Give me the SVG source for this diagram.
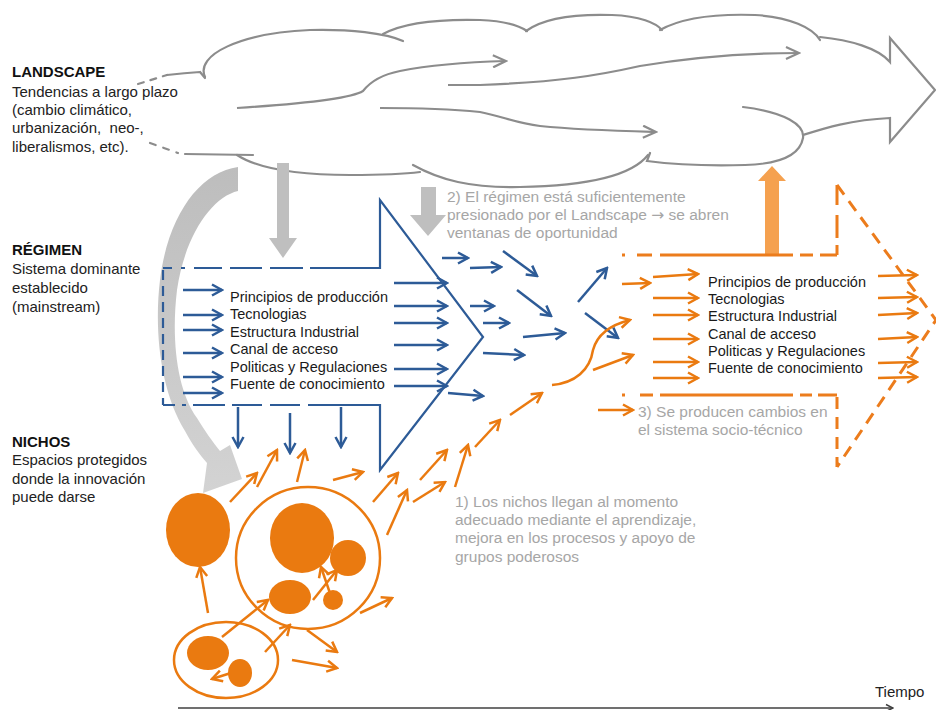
<svg xmlns="http://www.w3.org/2000/svg" width="936" height="710" viewBox="0 0 936 710">
<defs>
<style>
text{font-family:"Liberation Sans",Arial,sans-serif}
.lbl{font-size:15px;fill:#222}
.hd{font-size:15px;font-weight:bold;fill:#111}
.item{font-size:14.5px;fill:#1a1a1a}
.note{font-size:15.5px;fill:#A6A6A6}
.cl{fill:none;stroke:#8C8C8C;stroke-width:2.2;stroke-linecap:round}
.cla{fill:none;stroke:#8C8C8C;stroke-width:2.2;marker-end:url(#mg)}
.ba{fill:none;stroke:#2D5B97;stroke-width:2.5;marker-end:url(#mb)}
.oa{fill:none;stroke:#EA7A10;stroke-width:2.5;marker-end:url(#mo)}
.bl{fill:none;stroke:#2D5B97;stroke-width:2.2}
.ol{fill:none;stroke:#EC7C1C;stroke-width:3}
.blob{fill:#EA7A10}
.ring{fill:none;stroke:#EA7A10;stroke-width:2.5}
.garr{fill:#BFBFBF}
</style>
<linearGradient id="gband" x1="0" y1="0" x2="0" y2="1">
<stop offset="0" stop-color="#BDBDBD"/>
<stop offset="1" stop-color="#D3D3D3"/>
</linearGradient>
<marker id="mb" markerUnits="userSpaceOnUse" viewBox="0 0 14 14" markerWidth="14" markerHeight="14" refX="12" refY="7" orient="auto"><path d="M2,1.5 L12,7 L2,12.5" fill="none" stroke="#2D5B97" stroke-width="2.5"/></marker>
<marker id="mo" markerUnits="userSpaceOnUse" viewBox="0 0 14 14" markerWidth="14" markerHeight="14" refX="12" refY="7" orient="auto"><path d="M2,1.5 L12,7 L2,12.5" fill="none" stroke="#EA7A10" stroke-width="2.5"/></marker>
<marker id="mg" markerUnits="userSpaceOnUse" viewBox="0 0 16 14" markerWidth="16" markerHeight="14" refX="14" refY="7" orient="auto"><path d="M1,1 L14,7 L1,13" fill="none" stroke="#8C8C8C" stroke-width="2.2"/></marker>
<marker id="mk" markerUnits="userSpaceOnUse" viewBox="0 0 10 10" markerWidth="10" markerHeight="10" refX="9" refY="5" orient="auto"><path d="M2,1.5 L9,5 L2,8.5" fill="none" stroke="#404040" stroke-width="1.5"/></marker>
</defs>
<rect width="936" height="710" fill="#fff"/>

<g id="landscape-cloud">
<path class="cl" d="M138,84 L167,75" stroke-dasharray="6,7"/>
<path class="cl" d="M167,75 Q185,73 200,72 L205,78"/>
<path class="cl" d="M150,143 L178,153" stroke-dasharray="6,8"/>
<path class="cl" d="M185,154 L253,155"/>
<path class="cl" d="M205,77 C195,55 240,33 310,30 C350,29 385,33 403,41"/>
<path class="cl" d="M383,34 C405,22 440,19 480,20 C505,21 520,26 527,31"/>
<path class="cl" d="M526,31 C545,17 580,14 612,15 C640,16 656,23 662,30"/>
<path class="cl" d="M660,30 C685,16 725,14 755,15 C790,17 813,28 820,40"/>
<path class="cl" d="M820,37 C850,40 878,48 890,62 L890,38 L935,90 L890,142 L890,118 C850,120 825,128 803,135"/>
<path class="cl" d="M743,107 C785,112 805,125 803,138 C800,155 780,164 745,165 C710,166 670,164 647,161 L650,153"/>
<path class="cl" d="M413,165 C440,180 470,188 520,187 C580,186 630,178 648,155"/>
<path class="cl" d="M237,155 C260,170 300,175 350,175 C385,175 405,174 420,172"/>
</g>

<g id="connectors">
<path class="cla" d="M237,108 C300,104 350,99 363,91 C370,82 380,75 400,71 C430,65 470,62 506,61"/>
<path class="cla" d="M448,85 L480,85 C560,82 600,75 640,66 C700,56 760,53 799,53"/>
<path class="cla" d="M380,108 C420,108 460,110 480,112 C505,117 515,123 540,126 C580,130 620,131 656,132"/>

<path fill="url(#gband)" d="M238,167 L238,191 C212,197 185,235 177,290 C171,340 177,390 197,418 C205,431 212,441 220,451 L230,445 L242,479 L203,493 L207,463 C199,454 192,444 185,431 C160,390 154,330 160,280 C168,215 200,172 238,167 Z"/>
<polygon class="garr" points="277,163 289,163 289,238 297,238 283,258 269,238 277,238"/>
<polygon class="garr" points="421,187 436,187 436,215 446,215 428,236 410,215 421,215"/>
<polygon fill="#F5A14F" points="765,255 765,181 758,181 772,166 786,181 779,181 779,255"/>

<path class="ba" d="M183,290 H222"/>
<path class="ba" d="M183,315 H222"/>
<path class="ba" d="M183,330 H222"/>
<path class="ba" d="M183,353 H222"/>
<path class="ba" d="M183,377 H222"/>
<path class="ba" d="M183,393 H222"/>
<path class="ba" d="M394,283 H447"/>
<path class="ba" d="M394,306 H447"/>
<path class="ba" d="M394,323 H447"/>
<path class="ba" d="M394,345 H447"/>
<path class="ba" d="M394,369 H447"/>
<path class="ba" d="M394,386 H447"/>
<path class="ba" d="M448,393 L483,396"/>
<path class="ba" d="M238,407 V447"/>
<path class="ba" d="M290,413 V453"/>
<path class="ba" d="M341,407 V447"/>
<path class="ba" d="M442,258 H468"/>
<path class="ba" d="M470,268 L501,267"/>
<path class="ba" d="M503,251 L537,276"/>
<path class="ba" d="M470,306 H494"/>
<path class="ba" d="M483,323 H509"/>
<path class="ba" d="M517,290 L551,316"/>
<path class="ba" d="M523,337 L565,333"/>
<path class="ba" d="M483,353 L524,355"/>
<path class="ba" d="M578,302 L607,268"/>
<path class="ba" d="M585,313 L618,338"/>

<path class="oa" d="M230,502 L257,473"/>
<path class="oa" d="M257,487 L277,450"/>
<path class="oa" d="M297,482 L305,450"/>
<path class="oa" d="M333,480 L363,472"/>
<path class="oa" d="M373,502 L398,473"/>
<path class="oa" d="M387,535 L407,490"/>
<path class="oa" d="M413,502 L445,482"/>
<path class="oa" d="M420,480 L447,450"/>
<path class="oa" d="M455,487 L468,445"/>
<path class="oa" d="M475,447 L500,420"/>
<path class="oa" d="M510,415 L542,393"/>
<path class="oa" d="M360,613 L392,598"/>
<path class="oa" d="M307,630 L337,652"/>
<path class="oa" d="M292,660 L337,668"/>
<path class="oa" d="M208,613 L200,567"/>
<path class="oa" d="M222,637 L268,600"/>
<path class="oa" d="M265,652 L290,625"/>
<path class="oa" d="M313,600 L337,570"/>
<path class="oa" d="M333,602 L321,567"/>
<path class="oa" d="M234,672 L212,679"/>
<path class="oa" d="M552,385 C575,383 590,370 593,350 C597,335 610,325 630,320"/>
<path class="oa" d="M593,370 L633,355"/>
<path class="oa" d="M598,410 H633"/>
<path class="oa" d="M622,284 L650,283"/>
<path class="oa" d="M653,277 L698,274"/>
<path class="oa" d="M653,298 H698"/>
<path class="oa" d="M653,315 H698"/>
<path class="oa" d="M653,339 H698"/>
<path class="oa" d="M653,362 H698"/>
<path class="oa" d="M653,378 H698"/>
<path class="oa" d="M878,276 L917,275"/>
<path class="oa" d="M878,298 L917,297"/>
<path class="oa" d="M878,315 L917,313"/>
<path class="oa" d="M878,339 L917,337"/>
<path class="oa" d="M878,363 L917,362"/>
<path class="oa" d="M878,378 L917,377"/>

<path d="M178,708 H893" fill="none" stroke="#404040" stroke-width="1.5" marker-end="url(#mk)"/>
</g>

<g id="regimen-chevron">
<path class="bl" d="M163,268 H172 M181,268 H185 M194,268 H222 M230,268 H262 M270,268 H303 M175,405 H163 M186,405 H182 M225,405 H193 M262,405 H232 M300,405 H270"/>
<path class="bl" d="M310,268 H380 V200 L483,337 L380,470 V405 H308"/>
<path class="bl" d="M163,270 V405" stroke-dasharray="10,6"/>
<text class="item" x="230" y="302">Principios de producción</text>
<text class="item" x="230" y="319">Tecnologias</text>
<text class="item" x="230" y="337">Estructura Industrial</text>
<text class="item" x="230" y="354">Canal de acceso</text>
<text class="item" x="230" y="372">Politicas y Regulaciones</text>
<text class="item" x="230" y="389">Fuente de conocimiento</text>
</g>

<g id="new-regime-chevron">
<path class="ol" d="M622,255 h3 M637,255 H652 M660,255 H793 M800,255 H813 M820,255 H837 M837,255 V245 M837,238 V215 M837,205 V185 M622,395 h3 M640,395 H653 M660,395 H793 M800,395 H812 M818,395 H837"/>
<path class="ol" d="M837,185 L936,320 L837,467" stroke-dasharray="12,8"/>
<path class="ol" d="M837,397 V467" stroke-dasharray="12,8"/>
<text class="item" x="708" y="287">Principios de producción</text>
<text class="item" x="708" y="304">Tecnologias</text>
<text class="item" x="708" y="321">Estructura Industrial</text>
<text class="item" x="708" y="339">Canal de acceso</text>
<text class="item" x="708" y="356">Politicas y Regulaciones</text>
<text class="item" x="708" y="373">Fuente de conocimiento</text>
</g>

<g id="niches">
<ellipse class="blob" cx="198" cy="530" rx="32" ry="37"/>
<ellipse class="ring" cx="308" cy="558" rx="72" ry="71"/>
<ellipse class="blob" cx="302" cy="538" rx="32" ry="35"/>
<circle class="blob" cx="348" cy="558" r="18"/>
<ellipse class="blob" cx="290" cy="597" rx="21" ry="17"/>
<circle class="blob" cx="333" cy="600" r="10"/>
<ellipse class="ring" cx="226" cy="660" rx="52" ry="38"/>
<ellipse class="blob" cx="208" cy="653" rx="21" ry="17"/>
<ellipse class="blob" cx="240" cy="673" rx="12" ry="14"/>
</g>

<g id="labels">
<text class="hd" x="12" y="77">LANDSCAPE</text>
<text class="lbl" x="12" y="97">Tendencias a largo plazo</text>
<text class="lbl" x="12" y="115">(cambio climático,</text>
<text class="lbl" x="12" y="133">urbanización,&#160; neo-,</text>
<text class="lbl" x="12" y="152">liberalismos, etc).</text>
<text class="hd" x="12" y="255">RÉGIMEN</text>
<text class="lbl" x="12" y="274">Sistema dominante</text>
<text class="lbl" x="12" y="293">establecido</text>
<text class="lbl" x="12" y="312">(mainstream)</text>
<text class="hd" x="12" y="447">NICHOS</text>
<text class="lbl" x="12" y="465">Espacios protegidos</text>
<text class="lbl" x="12" y="484">donde la innovación</text>
<text class="lbl" x="12" y="502">puede darse</text>
<text class="note" x="447" y="202">2) El régimen está suficientemente</text>
<text class="note" x="447" y="220">presionado por el Landscape <tspan font-family="'DejaVu Sans',sans-serif">→</tspan> se abren</text>
<text class="note" x="447" y="238">ventanas de oportunidad</text>
<text class="note" x="638" y="417">3) Se producen cambios en</text>
<text class="note" x="638" y="435">el sistema socio-técnico</text>
<text class="note" x="455" y="507">1) Los nichos llegan al momento</text>
<text class="note" x="455" y="525">adecuado mediante el aprendizaje,</text>
<text class="note" x="455" y="543">mejora en los procesos y apoyo de</text>
<text class="note" x="455" y="562">grupos poderosos</text>
<text class="lbl" x="875" y="697">Tiempo</text>
</g>
</svg>
